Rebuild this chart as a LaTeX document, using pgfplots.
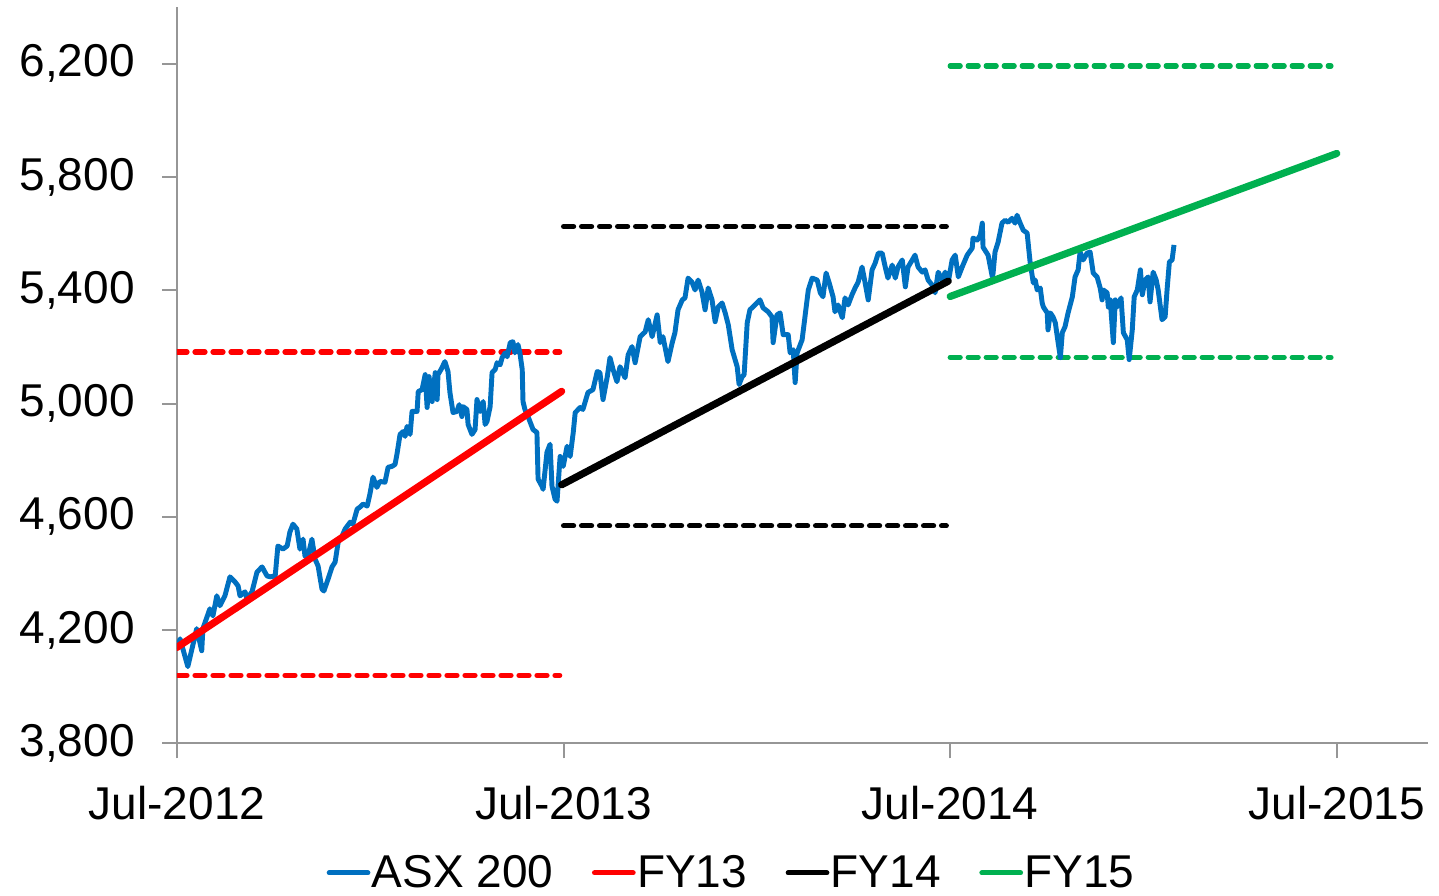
\documentclass[border=0pt]{standalone}
\usepackage{fontspec}
\setmainfont{Liberation Sans}
\usepackage{pgfplots}
\pgfplotsset{compat=1.18}
\definecolor{asxblue}{RGB}{0,112,192}
\definecolor{fyred}{RGB}{255,0,0}
\definecolor{fygreen}{RGB}{0,176,80}
\definecolor{axgray}{RGB}{150,150,150}
\begin{document}
\begin{tikzpicture}
\path[use as bounding box] (-132.75bp,-114.5bp) rectangle (946.5bp,557.5bp);
\begin{axis}[
  at={(0,0)}, anchor=south west,
  scale only axis, width=938.25bp, height=552.2bp,
  xmin=2012.5, xmax=2015.736, ymin=3800, ymax=6400,
  axis x line*=bottom, axis y line*=left,
  axis line style={-, axgray, line width=1.5bp},
  xtick={2012.5,2013.5,2014.5,2015.5},
  xticklabels={Jul-2012,Jul-2013,Jul-2014,Jul-2015},
  ytick={3800,4200,4600,5000,5400,5800,6200},
  tick align=outside, major tick length=11.25bp,
  tick style={axgray, line width=1.5bp},
  minor tick num=0,
  /pgf/number format/.cd, 1000 sep={,}, assume math mode=true,
  /pgfplots/.cd,
  tick label style={font=\fontsize{34.5bp}{40bp}\selectfont, black},
  yticklabel style={xshift=-17bp},
  xticklabel style={yshift=-17bp},
  legend style={draw=none, fill=none, at={(0.443,-0.176)}, anchor=center,
    font=\fontsize{34.5bp}{40bp}\selectfont,
    nodes={inner sep=1bp},
    /tikz/every even column/.append style={column sep=28bp}},
  legend columns=4,
  legend image code/.code={\draw[#1, line width=3.8bp, line cap=round] (0bp,0bp) -- (29bp,0bp);},
]
% dashed range lines
\addplot[fyred, line width=3.9bp, dash pattern=on 7.5bp off 6bp, line cap=round, forget plot] coordinates {(2012.5,5182) (2013.49,5182)};
\addplot[fyred, line width=3.9bp, dash pattern=on 7.5bp off 6bp, line cap=round, forget plot] coordinates {(2012.5,4040) (2013.49,4040)};
\addplot[black, line width=3.9bp, dash pattern=on 7.5bp off 6bp, line cap=round, forget plot] coordinates {(2013.5,5625) (2014.49,5625)};
\addplot[black, line width=3.9bp, dash pattern=on 7.5bp off 6bp, line cap=round, forget plot] coordinates {(2013.5,4568) (2014.49,4568)};
\addplot[fygreen, line width=3.9bp, dash pattern=on 7.5bp off 6bp, line cap=round, forget plot] coordinates {(2014.5,6192) (2015.485,6192)};
\addplot[fygreen, line width=3.9bp, dash pattern=on 7.5bp off 6bp, line cap=round, forget plot] coordinates {(2014.5,5163) (2015.485,5163)};
% ASX 200
\addplot[asxblue, line width=3.7bp, line join=round] coordinates {
(2012.500,4134) (2012.508,4169) (2012.528,4071) (2012.551,4205) (2012.564,4127) (2012.567,4205)
(2012.585,4275) (2012.593,4250) (2012.603,4321) (2012.611,4286) (2012.624,4321) (2012.637,4388)
(2012.650,4370) (2012.658,4356) (2012.663,4321) (2012.676,4335) (2012.681,4310) (2012.694,4335)
(2012.707,4405) (2012.720,4423) (2012.733,4391) (2012.741,4388) (2012.754,4391) (2012.761,4497)
(2012.774,4486) (2012.785,4497) (2012.792,4546) (2012.800,4574) (2012.810,4557) (2012.818,4486)
(2012.826,4521) (2012.831,4462) (2012.839,4462) (2012.849,4521) (2012.857,4451) (2012.865,4426)
(2012.875,4345) (2012.880,4338) (2012.891,4381) (2012.901,4423) (2012.909,4440) (2012.917,4511)
(2012.927,4532) (2012.935,4557) (2012.948,4581) (2012.955,4574) (2012.966,4627) (2012.973,4634)
(2012.981,4645) (2012.992,4638) (2012.999,4680) (2013.007,4740) (2013.017,4704) (2013.025,4725)
(2013.038,4722) (2013.046,4775) (2013.056,4778) (2013.064,4785) (2013.069,4821) (2013.077,4891)
(2013.085,4901) (2013.090,4884) (2013.095,4919) (2013.103,4891) (2013.108,4972) (2013.121,4972)
(2013.124,5042) (2013.134,5049) (2013.142,5102) (2013.147,4986) (2013.152,5095) (2013.160,5007)
(2013.168,5109) (2013.173,5014) (2013.175,5102) (2013.183,5120) (2013.193,5148) (2013.201,5113)
(2013.206,5039) (2013.214,4968) (2013.224,4972) (2013.230,4996) (2013.237,4954) (2013.240,4989)
(2013.250,4979) (2013.253,4926) (2013.263,4891) (2013.271,4908) (2013.276,5014) (2013.284,4972)
(2013.292,5007) (2013.297,4926) (2013.302,4937) (2013.310,4989) (2013.315,5109) (2013.323,5120)
(2013.328,5144) (2013.336,5137) (2013.341,5162) (2013.349,5179) (2013.354,5165) (2013.362,5215)
(2013.369,5218) (2013.374,5179) (2013.382,5208) (2013.387,5179) (2013.393,5120) (2013.395,5007)
(2013.400,4979) (2013.408,4954) (2013.421,4908) (2013.431,4898) (2013.434,4733) (2013.444,4708)
(2013.447,4697) (2013.457,4828) (2013.465,4856) (2013.470,4708) (2013.478,4662) (2013.483,4655)
(2013.491,4813) (2013.499,4778) (2013.509,4849) (2013.517,4813) (2013.525,4898) (2013.530,4968)
(2013.543,4986) (2013.550,4979) (2013.563,5039) (2013.576,5049) (2013.587,5113) (2013.594,5109)
(2013.602,5014) (2013.613,5095) (2013.620,5162) (2013.628,5120) (2013.638,5077) (2013.646,5130)
(2013.659,5091) (2013.667,5172) (2013.677,5201) (2013.685,5144) (2013.698,5236) (2013.711,5253)
(2013.719,5296) (2013.729,5236) (2013.742,5313) (2013.750,5215) (2013.757,5236) (2013.770,5148)
(2013.781,5215) (2013.788,5250) (2013.796,5331) (2013.807,5366) (2013.814,5373) (2013.822,5443)
(2013.832,5429) (2013.840,5401) (2013.848,5436) (2013.858,5394) (2013.866,5331) (2013.874,5408)
(2013.884,5366) (2013.892,5289) (2013.900,5341) (2013.910,5355) (2013.918,5320) (2013.926,5278)
(2013.936,5190) (2013.949,5130) (2013.954,5067) (2013.962,5095) (2013.967,5102) (2013.975,5285)
(2013.982,5331) (2013.995,5348) (2014.008,5366) (2014.016,5338) (2014.029,5324) (2014.039,5306)
(2014.042,5215) (2014.052,5313) (2014.060,5320) (2014.068,5243) (2014.081,5243) (2014.086,5179)
(2014.094,5190) (2014.099,5074) (2014.104,5179) (2014.117,5225) (2014.125,5313) (2014.133,5401)
(2014.143,5443) (2014.156,5436) (2014.164,5391) (2014.171,5377) (2014.179,5461) (2014.187,5426)
(2014.197,5377) (2014.202,5324) (2014.210,5348) (2014.221,5303) (2014.228,5373) (2014.236,5348)
(2014.246,5384) (2014.254,5408) (2014.262,5429) (2014.272,5482) (2014.280,5426) (2014.288,5366)
(2014.298,5472) (2014.306,5496) (2014.314,5531) (2014.324,5531) (2014.332,5482) (2014.339,5443)
(2014.350,5489) (2014.358,5443) (2014.365,5482) (2014.376,5507) (2014.384,5412) (2014.391,5482)
(2014.402,5507) (2014.409,5524) (2014.417,5482) (2014.428,5464) (2014.435,5472) (2014.443,5436)
(2014.453,5419) (2014.461,5391) (2014.469,5464) (2014.479,5436) (2014.487,5464) (2014.495,5429)
(2014.505,5507) (2014.513,5524) (2014.521,5447) (2014.531,5482) (2014.544,5524) (2014.557,5549)
(2014.559,5584) (2014.570,5577) (2014.578,5595) (2014.583,5637) (2014.585,5552) (2014.598,5524)
(2014.609,5447) (2014.611,5461) (2014.616,5535) (2014.624,5570) (2014.634,5637) (2014.642,5647)
(2014.650,5640) (2014.660,5654) (2014.668,5637) (2014.673,5665) (2014.681,5637) (2014.689,5612)
(2014.699,5602) (2014.707,5496) (2014.715,5426) (2014.720,5436) (2014.725,5401) (2014.733,5408)
(2014.738,5355) (2014.741,5341) (2014.751,5320) (2014.753,5260) (2014.759,5320) (2014.766,5306)
(2014.772,5285) (2014.777,5236) (2014.785,5162) (2014.790,5250) (2014.797,5271) (2014.805,5320)
(2014.816,5377) (2014.823,5447) (2014.831,5472) (2014.836,5535) (2014.844,5507) (2014.854,5531)
(2014.862,5535) (2014.870,5461) (2014.880,5447) (2014.888,5408) (2014.893,5366) (2014.896,5401)
(2014.906,5391) (2014.909,5341) (2014.914,5366) (2014.922,5215) (2014.927,5366) (2014.932,5341)
(2014.942,5373) (2014.948,5250) (2014.958,5225) (2014.963,5155) (2014.971,5260) (2014.976,5377)
(2014.984,5401) (2014.992,5472) (2014.997,5384) (2015.004,5436) (2015.012,5447) (2015.017,5359)
(2015.025,5464) (2015.033,5436) (2015.038,5401) (2015.048,5296) (2015.056,5306) (2015.061,5401)
(2015.067,5500) (2015.074,5507) (2015.079,5560)
};
\addlegendentry{ASX 200}
\addplot[fyred, line width=5.4bp, line cap=round] coordinates {(2012.499,4138) (2013.495,5043)};
\addlegendentry{FY13}
\addplot[black, line width=5.4bp, line cap=round] coordinates {(2013.495,4713) (2014.495,5432)};
\addlegendentry{FY14}
\addplot[fygreen, line width=5.4bp, line cap=round] coordinates {(2014.5,5378) (2015.5,5883)};
\addlegendentry{FY15}
\end{axis}
\end{tikzpicture}
\end{document}
